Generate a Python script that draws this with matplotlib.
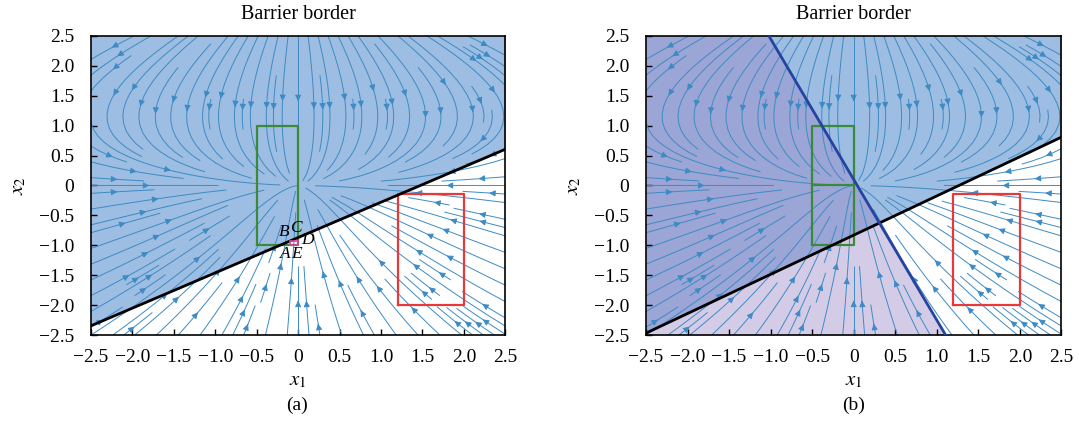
import numpy as np
import matplotlib
matplotlib.use("Agg")
import matplotlib.pyplot as plt
from matplotlib.ticker import FuncFormatter

plt.rcParams["font.family"] = ["Liberation Serif", "DejaVu Serif"]
plt.rcParams["mathtext.fontset"] = "stix"
plt.rcParams["axes.unicode_minus"] = True

# axis range and ticks
lim = [-2.5, 2.5]
ticks = [-2.5, -2.0, -1.5, -1.0, -0.5, 0, 0.5, 1.0, 1.5, 2.0, 2.5]

# initial set (green) and unsafe set (red): [x_min, x_max, y_min, y_max]
init_box = [-0.5, 0.0, -1.0, 1.0]
unsafe_box = [1.2, 2.0, -2.0, -0.15]

# barrier lines  x2 = slope*x1 + icpt
barrier_a = [0.59, -0.87]
barrier_b = [0.655, -0.83]
# second border in (b), x2 = slope*x1 + icpt
border_b2 = [-2.35, 0.10]

# points A..E near the corner of the initial set
pt_names = ["A", "B", "C", "D", "E"]
pt_x = [-0.1, -0.1, 0.0, 0.0, 0.0]
pt_y = [-1.0, -0.93, -0.93, -0.95, -1.0]
lab_dx = [-0.05, -0.07, -0.03, 0.11, -0.02]
lab_dy = [-0.14, 0.15, 0.22, 0.04, -0.14]


def field(X1, X2):
    U = X1 * (X2 - 1.15)
    V = -2.0 * X2 + 0.5 * X2 ** 2
    return U, V


g = np.linspace(-2.5, 2.5, 200)
X1, X2 = np.meshgrid(g, g)
U, V = field(X1, X2)

fig = plt.figure(figsize=(10.79, 4.22), dpi=100)
ax1 = fig.add_axes([0.0843, 0.206, 0.384, 0.709])
ax2 = fig.add_axes([0.5987, 0.206, 0.385, 0.709])

blue_fill = "#9dbde2"
purple_fill = "#9a86c6"
line_col = "#3d8bc4"

fmt = FuncFormatter(lambda v, p: "0" if abs(v) < 1e-9 else ("%.1f" % v).replace("-", "\u2212"))

xs = np.linspace(-2.5, 2.5, 50)


def draw_box(ax, b, col):
    ax.plot([b[0], b[1], b[1], b[0], b[0]], [b[2], b[2], b[3], b[3], b[2]],
            color=col, lw=1.6, zorder=4)


for ax in (ax1, ax2):
    ax.streamplot(g, g, U, V, density=1.3, color=line_col, linewidth=0.7,
                  arrowsize=0.9, zorder=2)
    ax.set_xlim(lim)
    ax.set_ylim(lim)
    ax.set_xticks(ticks)
    ax.set_yticks(ticks)
    ax.xaxis.set_major_formatter(fmt)
    ax.yaxis.set_major_formatter(fmt)
    ax.tick_params(direction="in", labelsize=14, length=4, width=1)
    ax.tick_params(axis="x", pad=10)
    ax.tick_params(axis="y", pad=12)
    for s in ax.spines.values():
        s.set_linewidth(1.2)
    ax.set_title("Barrier border", fontsize=14.5, pad=12)
    ax.set_xlabel("$x_1$", fontsize=15, labelpad=4)
    ax.set_ylabel("$x_2$", fontsize=15, labelpad=8)
    draw_box(ax, init_box, "#3a8a3a")
    draw_box(ax, unsafe_box, "#e8383a")

# (a)
ya = barrier_a[0] * xs + barrier_a[1]
ax1.fill_between(xs, ya, 2.5, color=blue_fill, lw=0, zorder=1)
ax1.plot(xs, ya, color="black", lw=2, zorder=5)
ax1.fill(pt_x, pt_y, facecolor="none", edgecolor="#e0409a", lw=1.2, zorder=6)
for n, x, y, dx, dy in zip(pt_names, pt_x, pt_y, lab_dx, lab_dy):
    ax1.text(x + dx, y + dy, n, fontsize=12.5, style="italic", ha="center",
             va="center", zorder=7)
fig.text(0.2755, 0.04, "(a)", fontsize=14, ha="center", va="center")

# (b)
yb = barrier_b[0] * xs + barrier_b[1]
ax2.fill_between(xs, yb, 2.5, color=blue_fill, lw=0, zorder=1)
ys = np.linspace(-2.5, 2.5, 50)
xb2 = (ys - border_b2[1]) / border_b2[0]
ax2.fill_betweenx(ys, -2.5, xb2, color=purple_fill, alpha=0.42, lw=0, zorder=1.5)
ax2.plot(xs, yb, color="black", lw=2, zorder=5)
ax2.plot(xb2, ys, color="#2444a0", lw=2, zorder=5)
ax2.plot([init_box[0], init_box[1]], [0, 0], color="#3a8a3a", lw=1.6, zorder=4)
fig.text(0.791, 0.04, "(b)", fontsize=14, ha="center", va="center")

fig.savefig("out.png", dpi=100)
